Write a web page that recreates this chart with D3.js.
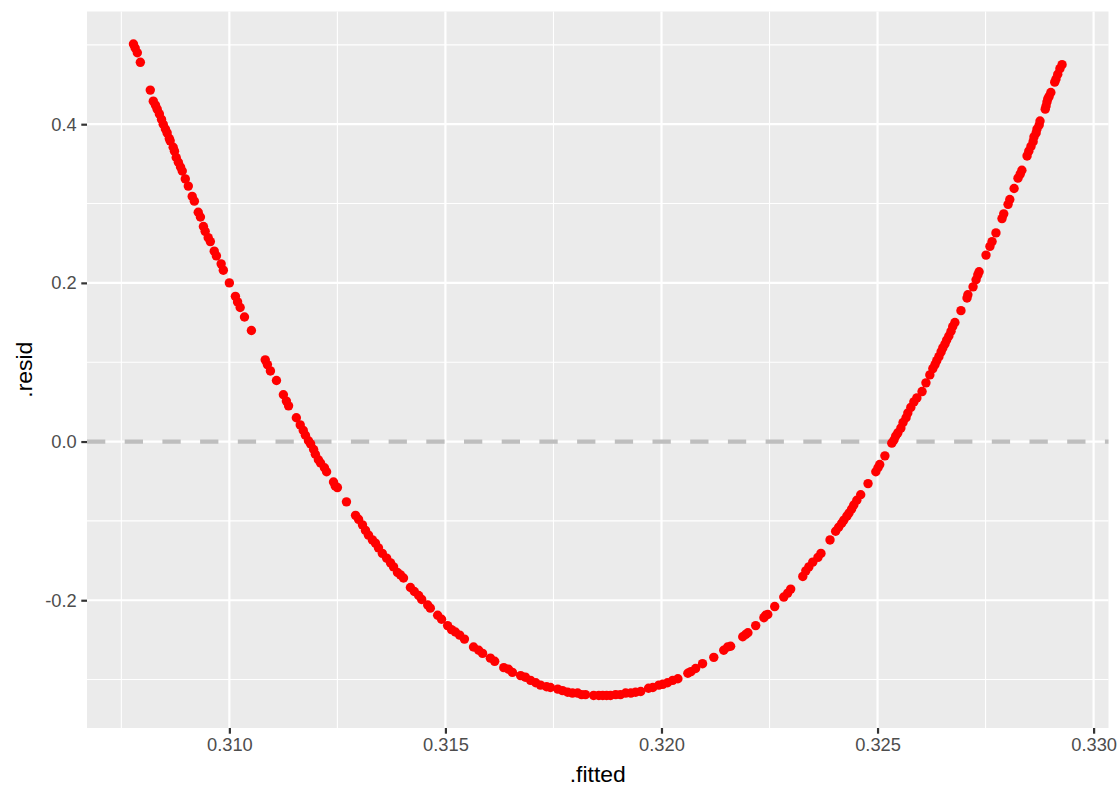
<!DOCTYPE html>
<html>
<head>
<meta charset="utf-8">
<script src="https://cdn.jsdelivr.net/npm/d3@7"></script>
<style>
  html, body { margin: 0; padding: 0; background: #ffffff; }
  svg { display: block; font-family: "Liberation Sans", Arial, Helvetica, sans-serif; }
</style>
</head>
<body>
<svg id="chart" width="1120" height="800"></svg>
<script>
const fitted = [
  0.30778,0.30782,0.30787,0.30794,0.30817,0.30824,0.30829,0.30833,0.30838,0.30843,
  0.30847,0.30852,0.30856,0.30861,0.30863,0.30870,0.30873,0.30877,0.30882,0.30887,
  0.30891,0.30898,0.30905,0.30914,0.30919,0.30928,0.30933,0.30940,0.30944,0.30951,
  0.30956,0.30965,0.30970,0.30981,0.30986,0.31000,0.31014,0.31019,0.31025,0.31035,
  0.31051,0.31083,0.31088,0.31095,0.31109,0.31125,0.31132,0.31137,0.31155,0.31164,
  0.31171,0.31176,0.31183,0.31188,0.31195,0.31199,0.31206,0.31211,0.31220,0.31225,
  0.31241,0.31245,0.31250,0.31271,0.31292,0.31299,0.31308,0.31315,0.31322,0.31331,
  0.31338,0.31345,0.31354,0.31364,0.31373,0.31380,0.31389,0.31396,0.31403,0.31419,
  0.31428,0.31438,0.31445,0.31459,0.31465,0.31482,0.31491,0.31505,0.31514,0.31523,
  0.31533,0.31544,0.31565,0.31577,0.31586,0.31604,0.31614,0.31635,0.31646,0.31655,
  0.31674,0.31685,0.31697,0.31709,0.31720,0.31734,0.31743,0.31760,0.31771,0.31783,
  0.31794,0.31806,0.31815,0.31824,0.31843,0.31855,0.31864,0.31873,0.31882,0.31894,
  0.31905,0.31917,0.31929,0.31940,0.31952,0.31970,0.31980,0.31994,0.32003,0.32014,
  0.32026,0.32038,0.32061,0.32068,0.32079,0.32095,0.32121,0.32144,0.32153,0.32160,
  0.32188,0.32195,0.32200,0.32218,0.32237,0.32241,0.32246,0.32262,0.32283,0.32292,
  0.32299,0.32327,0.32334,0.32341,0.32350,0.32362,0.32369,0.32390,0.32403,0.32410,
  0.32417,0.32422,0.32429,0.32434,0.32440,0.32445,0.32452,0.32461,0.32478,0.32496,
  0.32501,0.32505,0.32517,0.32533,0.32538,0.32542,0.32547,0.32554,0.32559,0.32566,
  0.32570,0.32577,0.32584,0.32591,0.32603,0.32612,0.32621,0.32628,0.32633,0.32637,
  0.32642,0.32647,0.32651,0.32656,0.32660,0.32665,0.32670,0.32674,0.32679,0.32693,
  0.32707,0.32709,0.32721,0.32728,0.32732,0.32735,0.32751,0.32760,0.32765,0.32774,
  0.32788,0.32792,0.32802,0.32806,0.32816,0.32825,0.32830,0.32834,0.32846,0.32850,
  0.32855,0.32860,0.32862,0.32867,0.32869,0.32874,0.32876,0.32888,0.32890,0.32892,
  0.32894,0.32897,0.32901,0.32910,0.32913,0.32917,0.32922,0.32927
];
const resid = [
  0.501,0.496,0.490,0.478,0.443,0.429,0.424,0.419,0.413,0.406,
  0.400,0.394,0.389,0.382,0.379,0.371,0.366,0.358,0.352,0.346,
  0.341,0.331,0.322,0.309,0.303,0.289,0.283,0.271,0.265,0.257,
  0.252,0.240,0.234,0.224,0.216,0.200,0.183,0.176,0.169,0.157,
  0.140,0.103,0.097,0.089,0.077,0.059,0.051,0.045,0.030,0.021,
  0.014,0.008,0.001,-0.003,-0.010,-0.016,-0.023,-0.027,-0.033,-0.038,
  -0.051,-0.056,-0.058,-0.076,-0.093,-0.098,-0.105,-0.112,-0.118,-0.124,
  -0.128,-0.134,-0.141,-0.147,-0.153,-0.158,-0.165,-0.168,-0.172,-0.184,
  -0.189,-0.194,-0.199,-0.206,-0.210,-0.219,-0.224,-0.232,-0.237,-0.240,
  -0.244,-0.249,-0.259,-0.263,-0.267,-0.273,-0.277,-0.285,-0.287,-0.291,
  -0.295,-0.297,-0.301,-0.304,-0.307,-0.309,-0.310,-0.312,-0.314,-0.316,
  -0.317,-0.317,-0.319,-0.319,-0.320,-0.320,-0.320,-0.320,-0.320,-0.319,
  -0.319,-0.317,-0.317,-0.316,-0.315,-0.311,-0.310,-0.307,-0.306,-0.304,
  -0.301,-0.299,-0.292,-0.290,-0.286,-0.280,-0.272,-0.263,-0.259,-0.258,
  -0.246,-0.243,-0.241,-0.232,-0.222,-0.219,-0.218,-0.208,-0.196,-0.191,
  -0.186,-0.170,-0.163,-0.158,-0.152,-0.146,-0.141,-0.124,-0.113,-0.108,
  -0.103,-0.099,-0.094,-0.090,-0.085,-0.080,-0.074,-0.067,-0.053,-0.038,
  -0.033,-0.029,-0.018,-0.002,0.002,0.007,0.011,0.017,0.024,0.030,
  0.036,0.043,0.050,0.055,0.063,0.074,0.084,0.092,0.097,0.102,
  0.107,0.113,0.118,0.123,0.128,0.133,0.139,0.145,0.150,0.165,
  0.181,0.185,0.195,0.204,0.210,0.214,0.235,0.246,0.252,0.263,
  0.281,0.287,0.299,0.305,0.319,0.332,0.337,0.342,0.360,0.366,
  0.372,0.378,0.384,0.389,0.394,0.399,0.404,0.419,0.423,0.428,
  0.432,0.435,0.440,0.453,0.457,0.463,0.470,0.475
];
const xTicks = [0.310, 0.315, 0.320, 0.325, 0.330];
const xMinorTicks = [0.3075, 0.3125, 0.3175, 0.3225, 0.3275];
const yTicks = [-0.2, 0.0, 0.2, 0.4];
const yMinorTicks = [-0.3, -0.1, 0.1, 0.3, 0.5];
const xTitle = ".fitted";
const yTitle = ".resid";
const hlineValue = 0;

const svg = d3.select("#chart");
const W = 1120, H = 800;
const panel = { left: 87, right: 1108.5, top: 11.5, bottom: 728 };

function padded(ext) {
  const r = ext[1] - ext[0];
  return [ext[0] - 0.05 * r, ext[1] + 0.05 * r];
}
const x = d3.scaleLinear().domain(padded(d3.extent(fitted))).range([panel.left, panel.right]);
const y = d3.scaleLinear().domain(padded(d3.extent(resid))).range([panel.bottom, panel.top]);

// panel background
svg.append("rect")
  .attr("x", panel.left).attr("y", panel.top)
  .attr("width", panel.right - panel.left).attr("height", panel.bottom - panel.top)
  .attr("fill", "#ebebeb");

const grid = svg.append("g");
const inX = v => x(v) >= panel.left && x(v) <= panel.right;
const inY = v => y(v) >= panel.top && y(v) <= panel.bottom;

grid.selectAll(".ymin").data(yMinorTicks.filter(inY)).join("line")
  .attr("x1", panel.left).attr("x2", panel.right)
  .attr("y1", d => y(d)).attr("y2", d => y(d))
  .attr("stroke", "#ffffff").attr("stroke-width", 1.1);
grid.selectAll(".xmin").data(xMinorTicks.filter(inX)).join("line")
  .attr("y1", panel.top).attr("y2", panel.bottom)
  .attr("x1", d => x(d)).attr("x2", d => x(d))
  .attr("stroke", "#ffffff").attr("stroke-width", 1.1);
grid.selectAll(".ymaj").data(yTicks).join("line")
  .attr("x1", panel.left).attr("x2", panel.right)
  .attr("y1", d => y(d)).attr("y2", d => y(d))
  .attr("stroke", "#ffffff").attr("stroke-width", 2.2);
grid.selectAll(".xmaj").data(xTicks).join("line")
  .attr("y1", panel.top).attr("y2", panel.bottom)
  .attr("x1", d => x(d)).attr("x2", d => x(d))
  .attr("stroke", "#ffffff").attr("stroke-width", 2.2);

// dashed reference line
svg.append("line")
  .attr("x1", panel.left).attr("x2", panel.right)
  .attr("y1", y(hlineValue)).attr("y2", y(hlineValue))
  .attr("stroke", "#bebebe").attr("stroke-width", 4.2)
  .attr("stroke-dasharray", "18.3,19.4");

// points
const pts = fitted.map((f, i) => ({ f, r: resid[i] }));
svg.append("g").selectAll("circle").data(pts).join("circle")
  .attr("cx", d => x(d.f)).attr("cy", d => y(d.r)).attr("r", 4.7)
  .attr("fill", "#ff0000");

// axes
const xAxis = d3.axisBottom(x).tickValues(xTicks).tickFormat(d3.format(".3f")).tickSizeInner(5.7).tickSizeOuter(0).tickPadding(4.6);
const gx = svg.append("g").attr("transform", `translate(0,${panel.bottom})`).call(xAxis);
gx.select(".domain").remove();
gx.selectAll(".tick line").attr("stroke", "#333333").attr("stroke-width", 2.2);
gx.selectAll(".tick text").attr("fill", "#4d4d4d").attr("font-size", "18.3px")
  .attr("font-family", "'Liberation Sans', Arial, sans-serif");

const yAxis = d3.axisLeft(y).tickValues(yTicks).tickFormat(d => d3.format(".1f")(d).replace("−", "-")).tickSizeInner(5.7).tickSizeOuter(0).tickPadding(4.6);
const gy = svg.append("g").attr("transform", `translate(${panel.left},0)`).call(yAxis);
gy.select(".domain").remove();
gy.selectAll(".tick line").attr("stroke", "#333333").attr("stroke-width", 2.2);
gy.selectAll(".tick text").attr("fill", "#4d4d4d").attr("font-size", "18.3px")
  .attr("font-family", "'Liberation Sans', Arial, sans-serif");

// titles
svg.append("text")
  .attr("x", (panel.left + panel.right) / 2).attr("y", 782)
  .attr("text-anchor", "middle").attr("font-size", "22.9px").attr("fill", "#000000")
  .text(xTitle);
svg.append("text")
  .attr("transform", `translate(32,${(panel.top + panel.bottom) / 2}) rotate(-90)`)
  .attr("text-anchor", "middle").attr("font-size", "22.9px").attr("fill", "#000000")
  .text(yTitle);
</script>
</body>
</html>
